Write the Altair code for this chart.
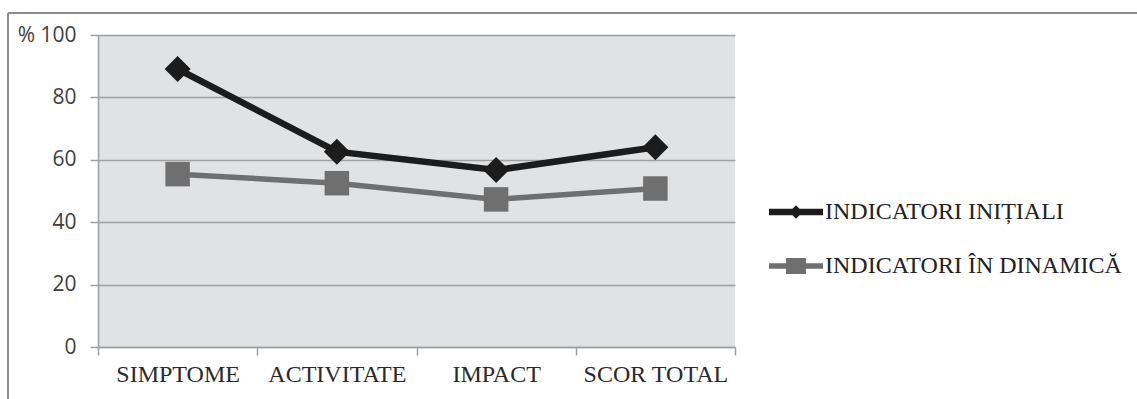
import altair as alt
import pandas as pd

categories = ["SIMPTOME", "ACTIVITATE", "IMPACT", "SCOR TOTAL"]
initiali = [89.1, 62.6, 56.7, 64.0]
dinamica = [55.4, 52.5, 47.3, 50.8]
series_names = ["INDICATORI INIȚIALI", "INDICATORI ÎN DINAMICĂ"]
series_colors = ["#1c1c1c", "#6f6f6f"]

rows = []
for c, v in zip(categories, initiali):
    rows.append({"cat": c, "val": v, "series": series_names[0]})
for c, v in zip(categories, dinamica):
    rows.append({"cat": c, "val": v, "series": series_names[1]})
df = pd.DataFrame(rows)

W, H = 637, 312
PL, PT = 98, 35
SERIF = "Liberation Serif"

xenc = alt.X("cat:N", sort=categories, title=None,
             scale=alt.Scale(paddingInner=0, paddingOuter=0),
             axis=alt.Axis(labelAngle=0, tickBand="extent", grid=False,
                           labelFont=SERIF, labelFontSize=24,
                           labelColor="#2a2a2a", labelPadding=7, tickSize=8,
                           domainColor="#a0a0a0", tickColor="#a0a0a0",
                           domainWidth=1.5, tickWidth=1.5))
yenc = alt.Y("val:Q", title=None,
             scale=alt.Scale(domain=[0, 100], nice=False),
             axis=alt.Axis(values=[0, 20, 40, 60, 80, 100], grid=True,
                           gridColor="#a0a0a0", gridWidth=1.5,
                           domainColor="#a0a0a0", tickColor="#a0a0a0",
                           domainWidth=1.5, tickWidth=1.5, tickSize=8,
                           labelFont="Open Sans", labelFontSize=21,
                           labelColor="#404040", labelPadding=14,
                           labelExpr="datum.value == 100 ? '% 100' : datum.label"))

path_black = "M-1,-0.12L1,-0.12L1,0.12L-1,0.12Z M0,-0.25L0.25,0L0,0.25L-0.25,0Z"
path_gray = "M-1,-0.1L1,-0.1L1,0.1L-1,0.1Z M-0.37,-0.3L0.37,-0.3L0.37,0.3L-0.37,0.3Z"

def make_legend(ly, color):
    return alt.Legend(
        title=None, orient="none", legendX=671, legendY=ly,
        padding=0, symbolSize=2916, labelFont=SERIF,
        labelFontSize=24, labelColor="#222222", labelOffset=2,
        labelLimit=400, symbolStrokeWidth=0, symbolOpacity=1,
        symbolFillColor=color)

base = alt.Chart(df)
lines = base.mark_line().encode(
    x=xenc, y=yenc,
    color=alt.Color("series:N", scale=alt.Scale(domain=series_names, range=series_colors), legend=None),
    strokeWidth=alt.StrokeWidth("series:N", scale=alt.Scale(domain=series_names, range=[6.5, 5.5]), legend=None),
)
points = base.mark_point(filled=True, opacity=1, strokeWidth=0).encode(
    x=xenc, y=yenc,
    fill=alt.Fill("series:N", scale=alt.Scale(domain=series_names, range=series_colors), legend=None),
    shape=alt.Shape("series:N", scale=alt.Scale(domain=series_names, range=["diamond", "square"]), legend=None),
    size=alt.Size("series:N", scale=alt.Scale(domain=series_names, range=[676, 600]), legend=None),
)

# hidden helper layers (drawn off-canvas) that only supply the legend entries
legend_a = base.transform_filter(alt.datum.series == series_names[0]).mark_point(
    filled=True, opacity=1, strokeWidth=0, size=2916, color=series_colors[0]).encode(
    x=alt.value(-3000), y=alt.value(-3000),
    shape=alt.Shape("series:N", scale=alt.Scale(domain=[series_names[0]], range=[path_black]),
                    legend=make_legend(150, series_colors[0])),
)
legend_b = base.transform_filter(alt.datum.series == series_names[1]).mark_point(
    filled=True, opacity=1, strokeWidth=0, size=2916, color=series_colors[1]).encode(
    x=alt.value(-3000), y=alt.value(-3000),
    shape=alt.Shape("series:N", scale=alt.Scale(domain=[series_names[1]], range=[path_gray]),
                    legend=make_legend(204, series_colors[1])),
)

dummy = alt.Chart(pd.DataFrame({"a": [0]}))
top_border = dummy.mark_rule(color="#8c8c8c", strokeWidth=2).encode(
    x=alt.value(8 - PL), x2=alt.value(1137 - PL + 5), y=alt.value(13 - PT))
left_border = dummy.mark_rule(color="#8c8c8c", strokeWidth=2).encode(
    x=alt.value(8 - PL), y=alt.value(13 - PT), y2=alt.value(399 - PT + 5))

chart = alt.layer(lines, points, legend_a, legend_b, top_border, left_border).resolve_scale(
    shape="independent"
).properties(
    width=W, height=H,
    autosize=alt.AutoSizeParams(type="none"),
    padding={"left": PL, "top": PT, "right": 1137 - PL - W, "bottom": 399 - PT - H},
    background="white",
).configure_view(fill="#e1e2e4", stroke=None)

chart.save("out.html", embed_options={"renderer": "svg", "actions": False})
